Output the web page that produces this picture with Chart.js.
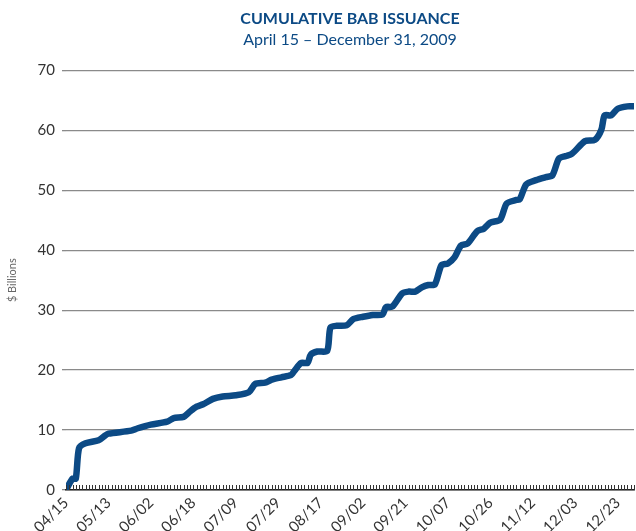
<!DOCTYPE html>
<html>
<head>
<meta charset="utf-8">
<script src="https://cdn.jsdelivr.net/npm/chart.js@4"></script>
<style>
  body { margin: 0; background: #fff; }
</style>
</head>
<body>
<canvas id="chart-bab" width="636" height="531"></canvas>
<script>
// one label every 13 trading days, last trading day index is 174
const tickLabels = ["04/15", "05/13", "06/02", "06/18", "07/09", "07/29", "08/17",
  "09/02", "09/21", "10/07", "10/26", "11/12", "12/03", "12/23"];
const lastDay = 174;

// trading day index -> cumulative issuance ($ billions)
const dayIndex = [0, 2, 3, 4, 6, 10, 12, 13, 20, 22, 26, 31, 33, 36, 38, 40, 42, 45, 48,
  52, 56, 58, 61, 63, 66, 69, 70, 72, 74, 75, 77, 80, 81, 83, 86, 88, 91, 94, 97, 98,
  100, 103, 105, 107, 109, 111, 113, 115, 117, 119, 121, 123, 126, 128, 130, 133, 135,
  138, 139, 141, 144, 147, 149, 151, 153, 155, 159, 162, 164, 165, 167, 169, 172, 174];
const cumulative = [0, 1.9, 1.9, 7.0, 7.8, 8.3, 9.1, 9.4, 9.9, 10.3, 10.9, 11.4, 12.0, 12.2,
  13.1, 13.9, 14.3, 15.2, 15.6, 15.8, 16.3, 17.7, 17.9, 18.4, 18.8, 19.2, 19.9, 21.2, 21.2,
  22.6, 23.1, 23.2, 27.1, 27.4, 27.5, 28.5, 28.9, 29.2, 29.3, 30.5, 30.6, 32.8, 33.1, 33.1,
  33.8, 34.2, 34.3, 37.5, 37.8, 38.8, 40.8, 41.1, 43.2, 43.6, 44.6, 45.1, 47.8, 48.4, 48.5,
  51.0, 51.7, 52.2, 52.5, 55.3, 55.7, 56.1, 58.2, 58.4, 60.1, 62.5, 62.5, 63.6, 64.0, 64.0];

const fontFamily = "Lato, 'Open Sans', sans-serif";
const navy = "#0c4a85";

// small day ticks pointing up from the x axis, like the original
const innerTicks = {
  id: "innerTicks",
  afterDraw(chart) {
    const { ctx, scales } = chart;
    const x = scales.x;
    const bottom = chart.chartArea.bottom;
    ctx.save();
    ctx.strokeStyle = "#333";
    ctx.lineWidth = 1;
    ctx.beginPath();
    x.ticks.forEach((tick, i) => {
      const px = Math.round(x.getPixelForTick(i)) + 0.5;
      ctx.moveTo(px, bottom);
      ctx.lineTo(px, bottom - 5);
    });
    ctx.stroke();
    ctx.restore();
  },
};

const babCtx = document.getElementById("chart-bab");
const babData = {
  datasets: [
    {
      label: "Cumulative BAB issuance",
      data: dayIndex.map((day, i) => ({ x: day, y: cumulative[i] })),
      borderColor: navy,
      borderWidth: 6.5,
      pointRadius: 0,
      tension: 0.25,
      fill: false,
    },
  ],
};
const babConfig = {
  type: "line",
  data: babData,
  plugins: [innerTicks],
  options: {
    responsive: false,
    animation: false,
    layout: { padding: { left: 6, right: 2, top: 0, bottom: 0 } },
    scales: {
      x: {
        type: "linear",
        min: 0,
        max: lastDay,
        grid: { display: false, drawTicks: false },
        border: { display: true, color: "#222", width: 1.5 },
        ticks: {
          stepSize: 1,
          autoSkip: false,
          maxRotation: 45,
          minRotation: 45,
          padding: 4,
          color: "#333",
          font: { family: fontFamily, size: 15 },
          callback: (value) => (value % 13 === 0 ? tickLabels[value / 13] : ""),
        },
        afterFit: (scale) => {
          scale.height = 41;
          scale.paddingLeft = 0;
          scale.paddingRight = 0;
        },
      },
      y: {
        min: 0,
        max: 70,
        grid: { color: "#8a8a8a", lineWidth: 1.3, tickLength: 4 },
        border: { display: false },
        ticks: {
          stepSize: 10,
          padding: 7,
          color: "#333",
          font: { family: fontFamily, size: 15 },
        },
        title: {
          display: true,
          text: "$ Billions",
          color: "#666",
          font: { family: fontFamily, size: 11 },
          padding: { top: 0, bottom: 4 },
        },
        afterFit: (scale) => {
          scale.width = 60;
        },
      },
    },
    plugins: {
      legend: { display: false },
      tooltip: { enabled: false },
      title: {
        display: true,
        fullSize: false,
        text: "CUMULATIVE BAB ISSUANCE",
        color: navy,
        font: { family: fontFamily, size: 16, weight: "bold" },
        padding: { top: 9, bottom: 2 },
      },
      subtitle: {
        display: true,
        fullSize: false,
        text: "April 15 – December 31, 2009",
        color: navy,
        font: { family: fontFamily, size: 16 },
        padding: { top: 0, bottom: 21 },
      },
    },
  },
};
new Chart(babCtx, babConfig);
</script>
</body>
</html>
